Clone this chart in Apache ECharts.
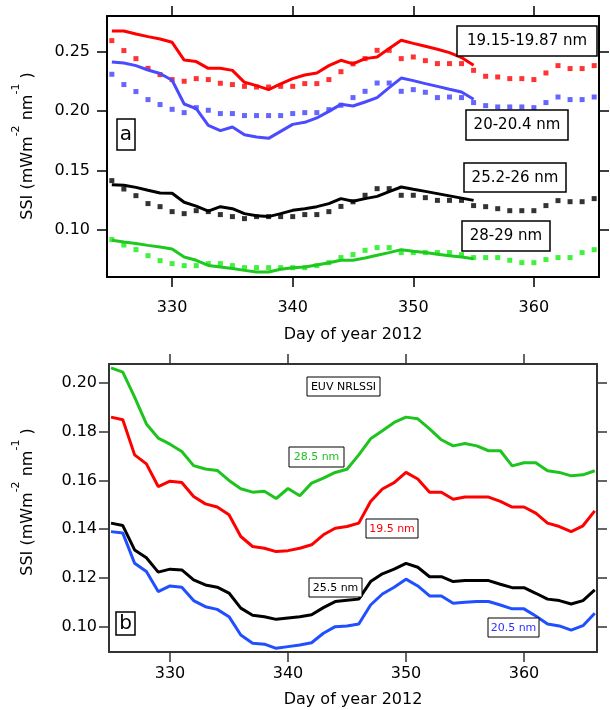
<!DOCTYPE html>
<html><head><meta charset="utf-8">
<script src="https://cdn.jsdelivr.net/npm/echarts@6.0.0/dist/echarts.min.js"></script>
<style>html,body{margin:0;padding:0;background:#fff}#c{width:610px;height:710px}</style>
</head><body><div id="c"></div>
<script>
// ---------- data ----------
const xTickLabels = [330, 340, 350, 360];
const yTickTop = [0.10, 0.15, 0.20, 0.25];
const yTickBottom = [0.10, 0.12, 0.14, 0.16, 0.18, 0.20];

const daysLineTop = [325,326,327,328,329,330,331,332,333,334,335,336,337,338,339,340,341,342,343,344,345,346,347,348,349,350,351,352,353,354,355];
const daysSqTop = [325,326,327,328,329,330,331,332,333,334,335,336,337,338,339,340,341,342,343,344,345,346,347,348,349,350,351,352,353,354,355,356,357,358,359,360,361,362,363,364,365];
const daysBottom = [325,326,327,328,329,330,331,332,333,334,335,336,337,338,339,340,341,342,343,344,345,346,347,348,349,350,351,352,353,354,355,356,357,358,359,360,361,362,363,364,365,366];

const redLineTop = [0.2677,0.2677,0.2652,0.2630,0.2610,0.2582,0.2432,0.2419,0.2362,0.2362,0.2345,0.2244,0.2216,0.2182,0.2230,0.2275,0.2306,0.2323,0.2385,0.2430,0.2400,0.2444,0.2458,0.2529,0.2599,0.2573,0.2548,0.2523,0.2495,0.2453,0.2388];
const redSqTop = [0.2596,0.2512,0.2444,0.2362,0.2309,0.2267,0.2253,0.2275,0.2267,0.2236,0.2225,0.2210,0.2204,0.2204,0.2210,0.2210,0.2233,0.2233,0.2267,0.2334,0.2400,0.2444,0.2514,0.2514,0.2444,0.2458,0.2427,0.2402,0.2402,0.2402,0.2345,0.2295,0.2289,0.2275,0.2275,0.2267,0.2323,0.2385,0.2360,0.2360,0.2385];
const blueLineTop = [0.2416,0.2407,0.2385,0.2348,0.2318,0.2261,0.2061,0.2022,0.1881,0.1836,0.1867,0.1802,0.1782,0.1771,0.1830,0.1889,0.1906,0.1943,0.1999,0.2058,0.2044,0.2078,0.2115,0.2199,0.2280,0.2258,0.2233,0.2210,0.2185,0.2162,0.2101];
const blueSqTop = [0.2312,0.2225,0.2166,0.2098,0.2056,0.2016,0.1988,0.2030,0.2008,0.1980,0.1980,0.1963,0.1963,0.1963,0.1963,0.1980,0.1988,0.1988,0.2013,0.2050,0.2115,0.2168,0.2238,0.2238,0.2168,0.2182,0.2160,0.2115,0.2120,0.2115,0.2073,0.2047,0.2036,0.2036,0.2036,0.2030,0.2073,0.2120,0.2098,0.2098,0.2120];
const blackLineTop = [0.1380,0.1374,0.1357,0.1332,0.1309,0.1307,0.1231,0.1199,0.1157,0.1194,0.1177,0.1135,0.1118,0.1110,0.1135,0.1163,0.1177,0.1194,0.1220,0.1262,0.1240,0.1262,0.1281,0.1321,0.1360,0.1341,0.1323,0.1304,0.1285,0.1266,0.1247];
const blackSqTop = [0.1414,0.1343,0.1287,0.1220,0.1194,0.1152,0.1135,0.1160,0.1152,0.1127,0.1110,0.1093,0.1110,0.1110,0.1110,0.1110,0.1127,0.1127,0.1152,0.1196,0.1235,0.1290,0.1346,0.1346,0.1290,0.1290,0.1270,0.1247,0.1247,0.1247,0.1203,0.1194,0.1177,0.1160,0.1160,0.1160,0.1203,0.1245,0.1236,0.1236,0.1262];
const greenLineTop = [0.0910,0.0895,0.0882,0.0867,0.0853,0.0836,0.0769,0.0741,0.0698,0.0684,0.0671,0.0656,0.0642,0.0642,0.0665,0.0679,0.0684,0.0701,0.0721,0.0741,0.0741,0.0760,0.0783,0.0806,0.0831,0.0818,0.0806,0.0793,0.0780,0.0768,0.0755];
const greenSqTop = [0.0916,0.0870,0.0831,0.0780,0.0738,0.0713,0.0696,0.0696,0.0713,0.0713,0.0696,0.0679,0.0679,0.0679,0.0679,0.0679,0.0679,0.0696,0.0721,0.0764,0.0789,0.0825,0.0848,0.0848,0.0806,0.0806,0.0806,0.0806,0.0806,0.0789,0.0764,0.0764,0.0764,0.0741,0.0721,0.0721,0.0747,0.0764,0.0764,0.0806,0.0831];

const green285 = [0.2062,0.2045,0.1942,0.1832,0.1774,0.1749,0.1719,0.1661,0.1647,0.1641,0.1600,0.1566,0.1552,0.1556,0.1526,0.1567,0.1537,0.1589,0.1610,0.1633,0.1646,0.1705,0.1771,0.1804,0.1838,0.1860,0.1853,0.1812,0.1767,0.1742,0.1752,0.1742,0.1722,0.1722,0.1660,0.1673,0.1673,0.1640,0.1633,0.1619,0.1623,0.1640];
const red195 = [0.1860,0.1849,0.1705,0.1668,0.1575,0.1597,0.1592,0.1534,0.1504,0.1491,0.1459,0.1370,0.1329,0.1322,0.1308,0.1312,0.1322,0.1336,0.1377,0.1404,0.1411,0.1425,0.1514,0.1565,0.1591,0.1633,0.1606,0.1552,0.1552,0.1523,0.1532,0.1532,0.1532,0.1514,0.1491,0.1491,0.1466,0.1425,0.1411,0.1390,0.1414,0.1475];
const black255 = [0.1425,0.1415,0.1315,0.1283,0.1224,0.1236,0.1233,0.1192,0.1171,0.1162,0.1138,0.1076,0.1047,0.1041,0.1030,0.1036,0.1041,0.1049,0.1078,0.1103,0.1108,0.1113,0.1185,0.1217,0.1236,0.1260,0.1244,0.1205,0.1205,0.1185,0.1189,0.1189,0.1189,0.1174,0.1160,0.1160,0.1137,0.1113,0.1107,0.1093,0.1107,0.1151];
const blue205 = [0.1390,0.1384,0.1260,0.1226,0.1144,0.1167,0.1162,0.1107,0.1082,0.1071,0.1041,0.0966,0.0932,0.0928,0.0911,0.0918,0.0925,0.0934,0.0973,0.1000,0.1003,0.1011,0.1089,0.1134,0.1162,0.1195,0.1167,0.1126,0.1126,0.1096,0.1100,0.1103,0.1103,0.1089,0.1073,0.1073,0.1044,0.1011,0.1003,0.0986,0.1004,0.1055];

const labelsTop = ['19.15-19.87 nm', '20-20.4 nm', '25.2-26 nm', '28-29 nm'];
const labelsBottom = ['EUV NRLSSI', '28.5 nm', '19.5 nm', '25.5 nm', '20.5 nm'];

// ---------- chart ----------
const FF = 'DejaVu Sans';
const zip = (xs, ys) => xs.map((x, i) => [x, ys[i]]);

function xAx(grid, min, max, pos, col, withLabels, margin, nameGap) {
  return {
    gridIndex: grid, type: 'value', min: min, max: max, position: pos,
    axisLine: { show: true, onZero: false, lineStyle: { color: col, width: 2 } },
    axisTick: { show: true, length: 10, inside: false, customValues: xTickLabels, lineStyle: { color: col, width: 1.5 } },
    axisLabel: withLabels ? { show: true, customValues: xTickLabels, fontSize: 16, fontFamily: FF, color: '#000', margin: margin } : { show: false },
    splitLine: { show: false },
    name: withLabels ? 'Day of year 2012' : '', nameLocation: 'middle', nameGap: nameGap || 40,
    nameTextStyle: { fontSize: 16, fontFamily: FF, color: '#000' }
  };
}
function yAx(grid, min, max, pos, col, ticks, withLabels, margin) {
  return {
    gridIndex: grid, type: 'value', min: min, max: max, position: pos,
    axisLine: { show: true, onZero: false, lineStyle: { color: col, width: 2 } },
    axisTick: { show: true, length: 10, inside: false, customValues: ticks, lineStyle: { color: col, width: 1.5 } },
    axisLabel: withLabels ? { show: true, customValues: ticks, fontSize: 16, fontFamily: FF, color: '#000', margin: margin, formatter: v => v.toFixed(2) } : { show: false },
    splitLine: { show: false }
  };
}

function lineS(xi, yi, xs, ys, color, w) {
  return { type: 'line', xAxisIndex: xi, yAxisIndex: yi, data: zip(xs, ys), showSymbol: false, symbol: 'none',
    lineStyle: { color: color, width: w }, itemStyle: { color: color }, animation: false, z: 3 };
}
function sqS(xi, yi, xs, ys, color) {
  return { type: 'scatter', xAxisIndex: xi, yAxisIndex: yi, data: zip(xs, ys), symbol: 'rect', symbolSize: 5,
    itemStyle: { color: color }, animation: false, z: 2 };
}

function box(x, y, w, h, text, color, fs, bw) {
  return {
    type: 'group', x: x, y: y, z: 100,
    children: [
      { type: 'rect', shape: { x: 0, y: 0, width: w, height: h }, style: { fill: '#fff', stroke: '#000', lineWidth: bw }, z: 100 },
      { type: 'text', x: w / 2, y: h / 2 + 0.5, z: 101, style: { text: text, fill: color, font: fs + 'px "' + FF + '"', align: 'center', verticalAlign: 'middle' } }
    ]
  };
}
function yName(x, y) {
  return {
    type: 'text', x: x, y: y, rotation: Math.PI / 2, z: 100,
    style: {
      text: '{m|SSI (mWm}{sup|-2}{m| nm}{sup|-1}{m| )}', fill: '#000', font: '16px "' + FF + '"', align: 'center', verticalAlign: 'middle',
      rich: {
        m: { fontSize: 16, fontFamily: FF, lineHeight: 25, verticalAlign: 'bottom' },
        sup: { fontSize: 11, fontFamily: FF, lineHeight: 12, verticalAlign: 'top' }
      }
    }
  };
}

const option = {
  backgroundColor: '#fff',
  animation: false,
  grid: [
    { left: 107, top: 16, width: 492, height: 261 },
    { left: 109, top: 364, width: 488, height: 288 }
  ],
  xAxis: [
    xAx(0, 324.6, 365.4, 'bottom', '#000', true, 23, 50),
    xAx(0, 324.6, 365.4, 'top', '#000', false),
    xAx(1, 324.83, 366.19, 'bottom', '#333', true, 14, 40),
    xAx(1, 324.83, 366.19, 'top', '#333', false)
  ],
  yAxis: [
    yAx(0, 0.06, 0.2804, 'left', '#000', yTickTop, true, 17),
    yAx(0, 0.06, 0.2804, 'right', '#000', yTickTop, false, 0),
    yAx(1, 0.0896, 0.2078, 'left', '#333', yTickBottom, true, 12),
    yAx(1, 0.0896, 0.2078, 'right', '#333', yTickBottom, false, 0)
  ],
  series: [
    sqS(0, 0, daysSqTop, redSqTop, '#ff0000'),
    sqS(0, 0, daysSqTop, blueSqTop, '#3f3fff'),
    sqS(0, 0, daysSqTop, blackSqTop, '#000000'),
    sqS(0, 0, daysSqTop, greenSqTop, '#10ee10'),
    lineS(0, 0, daysLineTop, redLineTop, '#ff0000', 3),
    lineS(0, 0, daysLineTop, blueLineTop, '#4a4aff', 3),
    lineS(0, 0, daysLineTop, blackLineTop, '#000000', 3),
    lineS(0, 0, daysLineTop, greenLineTop, '#1ec81e', 3),
    lineS(2, 2, daysBottom, green285, '#1ec41e', 3),
    lineS(2, 2, daysBottom, red195, '#ff0000', 3),
    lineS(2, 2, daysBottom, black255, '#000000', 3),
    lineS(2, 2, daysBottom, blue205, '#1f4fff', 3)
  ],
  graphic: [
    box(457, 26, 140, 30, labelsTop[0], '#000', 15, 1.5),
    box(466, 110, 102, 30, labelsTop[1], '#000', 15, 1.5),
    box(464, 163, 102, 29, labelsTop[2], '#000', 15, 1.5),
    box(462, 221, 88, 30, labelsTop[3], '#000', 15, 1.5),
    box(117, 119, 18, 31, 'a', '#000', 20, 1.5),
    box(307, 377, 73, 19, labelsBottom[0], '#000', 11, 1),
    box(289, 447, 55, 20, labelsBottom[1], '#22c022', 11, 1),
    box(366, 519, 52, 19, labelsBottom[2], '#ff0000', 11, 1),
    box(309, 578, 53, 19, labelsBottom[3], '#000', 11, 1),
    box(488, 618, 51, 19, labelsBottom[4], '#2f2fff', 11, 1),
    box(116, 612, 19, 23, 'b', '#000', 20, 1.5),
    yName(23, 146),
    yName(23, 502)
  ]
};
const chart = echarts.init(document.getElementById('c'), null, { renderer: 'canvas' });
chart.setOption(option);
</script></body></html>
